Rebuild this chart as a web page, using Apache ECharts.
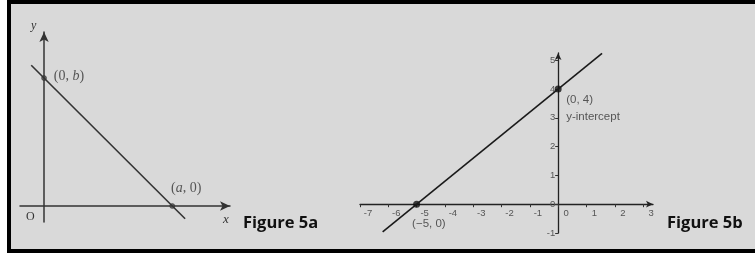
<!DOCTYPE html>
<html><head><meta charset="utf-8">
<script src="https://cdn.jsdelivr.net/npm/echarts@6/dist/echarts.min.js"></script>
<style>html,body{margin:0;padding:0;background:#fff}#c{width:755px;height:257px}</style>
</head><body><div id="c"></div>
<script>
// Figure 5a: intercept form line x/a + y/b = 1 (a = b = 4 in drawing units)
const fig5aLine = [[-0.4, 4.4], [4.4, -0.4]];
const fig5aPoints = [[0, 4], [4, 0]];
const fig5aPointLabels = ['(0, {i|b})', '({i|a}, 0)'];
// Figure 5b: y = 0.8x + 4
const fig5bLine = [[-6.2, -0.96], [1.55, 5.24]];
const fig5bPoints = [[-5, 0], [0, 4]];
const fig5bPointLabels = ['(−5, 0)', '(0, 4)\ny-intercept'];
const fig5bXTicks = [-7, -6, -5, -4, -3, -2, -1, 0, 1, 2, 3];
const fig5bYTicks = [-1, 0, 1, 2, 3, 4, 5];
const figureTitles = ['Figure 5a', 'Figure 5b'];

const chart = echarts.init(document.getElementById('c'), null, {renderer: 'canvas'});
const serif = '"Liberation Serif", "DejaVu Serif", serif';
const sans = '"Liberation Sans", "DejaVu Sans", sans-serif';
const axisColor = '#333';

// grid 2 geometry
const g2 = {left: 360, top: 53, width: 293, height: 180};
const g2x = {min: -7, max: 3.35};
const g2y = {min: -1, max: 5.25};
// offsets so that the axes (with their labels) sit on the zero lines
const yAxisOffset = -(0 - g2x.min) / (g2x.max - g2x.min) * g2.width;
const xAxisOffset = -(0 - g2y.min) / (g2y.max - g2y.min) * g2.height;

chart.setOption({
  animation: false,
  backgroundColor: '#ffffff',
  grid: [
    {left: 20, top: 32, width: 210, height: 190},
    g2
  ],
  xAxis: [
    {gridIndex: 0, type: 'value', min: -0.75, max: 5.8,
     axisLine: {onZero: true, symbol: ['none', 'arrow'], symbolSize: [7, 10], lineStyle: {color: axisColor, width: 1.5}},
     axisTick: {show: false}, axisLabel: {show: false}, splitLine: {show: false}},
    {gridIndex: 1, type: 'value', min: g2x.min, max: g2x.max, interval: 1,
     position: 'bottom', offset: xAxisOffset,
     axisLine: {onZero: false, symbol: ['none', 'arrow'], symbolSize: [5, 7], lineStyle: {color: '#222', width: 1.3}},
     axisTick: {show: true, length: 3, customValues: fig5bXTicks, lineStyle: {color: '#333'}},
     axisLabel: {customValues: fig5bXTicks, fontSize: 9.5, color: '#555', fontFamily: sans, margin: 4, padding: [0, 0, 0, 16]},
     splitLine: {show: false}}
  ],
  yAxis: [
    {gridIndex: 0, type: 'value', min: -0.5, max: 5.44,
     axisLine: {onZero: true, symbol: ['none', 'arrow'], symbolSize: [7, 10], lineStyle: {color: axisColor, width: 1.5}},
     axisTick: {show: false}, axisLabel: {show: false}, splitLine: {show: false}},
    {gridIndex: 1, type: 'value', min: g2y.min, max: g2y.max, interval: 1,
     position: 'left', offset: yAxisOffset,
     axisLine: {onZero: false, symbol: ['none', 'arrow'], symbolSize: [5, 7], lineStyle: {color: '#222', width: 1.3}},
     axisTick: {show: true, length: 3, customValues: fig5bYTicks, lineStyle: {color: '#333'}},
     axisLabel: {customValues: fig5bYTicks, fontSize: 9.5, color: '#555', fontFamily: sans, margin: 3, padding: [0, 0, 8, 0]},
     splitLine: {show: false}}
  ],
  series: [
    {type: 'line', xAxisIndex: 0, yAxisIndex: 0, data: fig5aLine, symbol: 'none',
     lineStyle: {color: '#333', width: 1.6}, silent: true},
    {type: 'scatter', xAxisIndex: 0, yAxisIndex: 0, symbolSize: 5,
     itemStyle: {color: '#444', borderColor: '#222', borderWidth: 0.5},
     data: fig5aPoints.map((p, i) => ({value: p, label: {
       show: true, formatter: fig5aPointLabels[i],
       position: i === 0 ? [12.5, 1.5] : [1.5, -14.5],
       align: 'left', verticalAlign: 'middle',
       fontFamily: serif, fontSize: 14, color: '#333',
       rich: {i: {fontFamily: serif, fontStyle: 'italic', fontSize: 14, color: '#333'}}
     }}))},
    {type: 'line', xAxisIndex: 1, yAxisIndex: 1, data: fig5bLine, symbol: 'none',
     lineStyle: {color: '#1a1a1a', width: 1.6}, silent: true},
    {type: 'scatter', xAxisIndex: 1, yAxisIndex: 1, symbolSize: 7,
     itemStyle: {color: '#111'},
     data: fig5bPoints.map((p, i) => ({value: p, label: {
       show: true, formatter: fig5bPointLabels[i],
       position: i === 0 ? [-1, 15] : [11.5, 6],
       align: 'left', verticalAlign: 'top',
       fontFamily: sans, fontSize: 11.5, color: '#333', lineHeight: 17
     }}))}
  ],
  graphic: [
    {type: 'rect', z: -10, shape: {x: 7, y: 0, width: 748, height: 253}, style: {fill: '#d9d9d9'}},
    {type: 'rect', z: 10, shape: {x: 7, y: 0, width: 748, height: 4}, style: {fill: '#000'}},
    {type: 'rect', z: 10, shape: {x: 7, y: 0, width: 4, height: 253}, style: {fill: '#000'}},
    {type: 'rect', z: 10, shape: {x: 7, y: 249, width: 748, height: 4}, style: {fill: '#000'}},
    {type: 'text', x: 31, y: 20, style: {text: 'y', font: 'italic 12px ' + serif, fill: '#333'}},
    {type: 'text', x: 223, y: 213, style: {text: 'x', font: 'italic 13px ' + serif, fill: '#333'}},
    {type: 'text', x: 26, y: 211, style: {text: 'O', font: '12px ' + serif, fill: '#333'}},
    {type: 'text', x: 243, y: 215, style: {text: figureTitles[0], font: 'bold 16.5px "Open Sans", sans-serif', fill: '#111'}},
    {type: 'text', x: 667, y: 215, style: {text: figureTitles[1], font: 'bold 16.5px "Open Sans", sans-serif', fill: '#111'}}
  ]
});
</script></body></html>
